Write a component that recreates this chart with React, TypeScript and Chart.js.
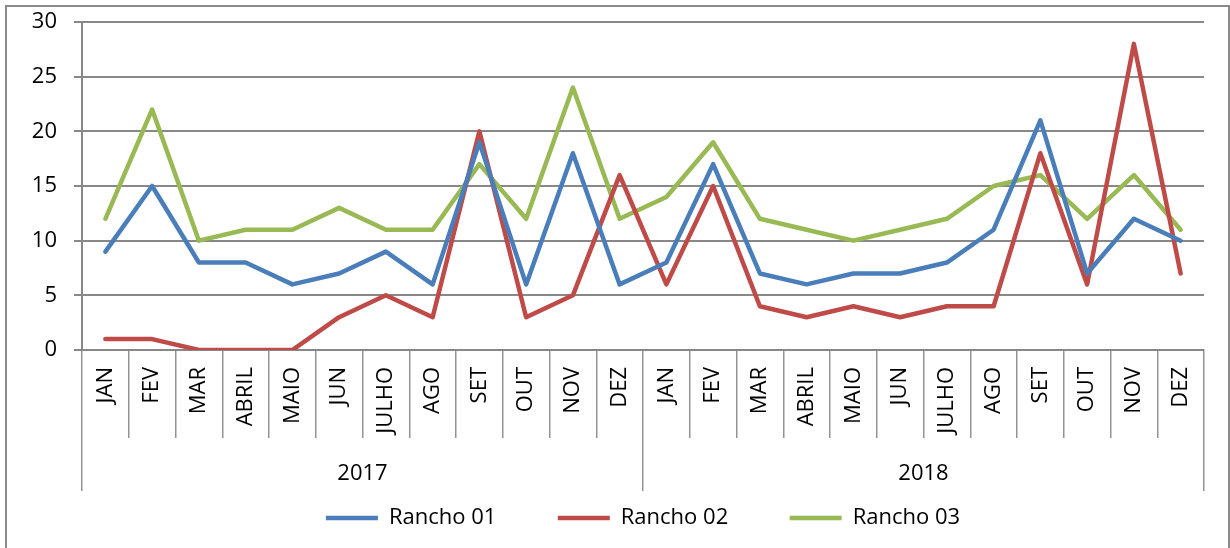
import React, { useEffect, useRef } from 'react';
import { Chart, registerables } from 'chart.js';

Chart.register(...registerables);

const months = ['JAN', 'FEV', 'MAR', 'ABRIL', 'MAIO', 'JUN', 'JULHO', 'AGO', 'SET', 'OUT', 'NOV', 'DEZ'];
const years = ['2017', '2018'];
const categories = [...months, ...months];

const seriesNames = ['Rancho 01', 'Rancho 02', 'Rancho 03'];
const rancho01 = [9, 15, 8, 8, 6, 7, 9, 6, 19, 6, 18, 6, 8, 17, 7, 6, 7, 7, 8, 11, 21, 7, 12, 10];
const rancho02 = [1, 1, 0, 0, 0, 3, 5, 3, 20, 3, 5, 16, 6, 15, 4, 3, 4, 3, 4, 4, 18, 6, 28, 7];
const rancho03 = [12, 22, 10, 11, 11, 13, 11, 11, 17, 12, 24, 12, 14, 19, 12, 11, 10, 11, 12, 15, 16, 12, 16, 11];
const seriesColors = ['#4A7EBB', '#BE4B48', '#98B954'];

const yMin = 0;
const yMax = 30;
const yStep = 5;

const FONT = { family: "'Open Sans', 'Liberation Sans', sans-serif", size: 22 };
const GRID = '#888888';
const SEP = '#939393';

export default function App() {
  const ref = useRef<HTMLCanvasElement>(null);

  useEffect(() => {
    const values = [rancho01, rancho02, rancho03];
    const chart = new Chart(ref.current as HTMLCanvasElement, {
      type: 'line',
      data: {
        labels: categories,
        datasets: values.map((v, i) => ({
          label: seriesNames[i],
          data: v,
          borderColor: seriesColors[i],
          backgroundColor: seriesColors[i],
          borderWidth: 4.5,
          pointRadius: 0,
          pointHoverRadius: 0,
          borderJoinStyle: 'round',
          borderCapStyle: 'round',
          tension: 0,
          xAxisID: 'x',
          yAxisID: 'y',
        })),
      },
      options: {
        animation: false,
        responsive: false,
        devicePixelRatio: 1,
        events: [],
        layout: { padding: { top: 22, right: 26, bottom: 9, left: 0 } },
        plugins: {
          tooltip: { enabled: false },
          legend: {
            position: 'bottom',
            fullSize: false,
            labels: {
              usePointStyle: true,
              pointStyle: 'line',
              pointStyleWidth: 52,
              padding: 10,
              color: '#000',
              font: FONT,
              generateLabels: (c: any) => {
                const items = Chart.defaults.plugins.legend.labels.generateLabels(c);
                return items.map((it: any, i: number) => ({
                  ...it,
                  text: i < items.length - 1 ? it.text + '         ' : it.text,
                }));
              },
            },
          },
        },
        scales: {
          x: {
            type: 'category',
            position: 'bottom',
            weight: 0,
            offset: true,
            grid: { offset: true, drawOnChartArea: false, tickLength: 88, color: SEP, lineWidth: 1.5 },
            border: { display: true, color: GRID, width: 2 },
            ticks: { autoSkip: false, minRotation: 90, maxRotation: 90, padding: -71, color: '#000', font: FONT },
            afterFit: (s: any) => {
              s.height = 88;
              s.paddingLeft = 0;
              s.paddingRight = 0;
            },
          },
          year: {
            type: 'category',
            position: 'bottom',
            weight: 1,
            labels: years,
            offset: true,
            grid: { offset: true, drawOnChartArea: false, tickLength: 53, color: SEP, lineWidth: 1.5 },
            border: { display: false },
            ticks: { autoSkip: false, minRotation: 0, maxRotation: 0, padding: -30, color: '#000', font: FONT },
            afterFit: (s: any) => {
              s.height = 59;
              s.paddingLeft = 0;
              s.paddingRight = 0;
            },
          },
          y: {
            min: yMin,
            max: yMax,
            ticks: { stepSize: yStep, padding: 17, color: '#000', font: FONT },
            grid: { color: GRID, lineWidth: 2, tickLength: 8 },
            border: { display: true, color: GRID, width: 2 },
            afterFit: (s: any) => {
              s.width = 82;
              s.paddingTop = 0;
              s.paddingBottom = 0;
            },
          },
        },
      } as any,
    });
    return () => chart.destroy();
  }, []);

  return (
    <div style={{ position: 'absolute', left: 0, top: 0, width: 1230, height: 548, overflow: 'hidden', background: '#fff' }}>
      <canvas ref={ref} width={1230} height={548} style={{ display: 'block', width: 1230, height: 548 }} />
      <div
        style={{
          position: 'absolute',
          left: 5,
          top: 5,
          width: 1225,
          height: 570,
          border: '2px solid #8a8a8a',
          boxSizing: 'border-box',
          pointerEvents: 'none',
        }}
      />
    </div>
  );
}
